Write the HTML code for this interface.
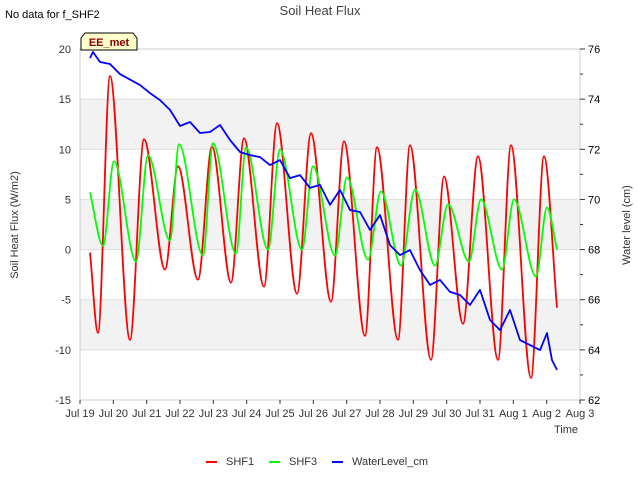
<!DOCTYPE html>
<html><head><meta charset="utf-8"><style>
body{margin:0;background:#fff;}
svg text{font-family:"Liberation Sans","DejaVu Sans",sans-serif;}
</style></head><body>
<svg id="chart" width="640" height="480" xmlns="http://www.w3.org/2000/svg">
<rect width="640" height="480" fill="#fff"/>
<text x="5" y="18" font-size="11" fill="#000">No data for f_SHF2</text>
<text x="320" y="15" font-size="13" fill="#444" text-anchor="middle">Soil Heat Flux</text>
<g id="bands"></g>
<g id="grid"></g>
<rect x="80" y="49" width="500" height="351" fill="none" stroke="#ccc"/>
<g id="axes"></g>
<g id="series"></g>
<g>
<path d="M81,50 L81,38 L85,33 L133,33 L137,38 L137,50 Z" fill="#ffffcc" stroke="#000" stroke-width="1"/>
<text x="109" y="46" font-size="11" font-weight="bold" fill="#8b0000" text-anchor="middle">EE_met</text>
</g>
<text x="18" y="225" font-size="11" fill="#333" text-anchor="middle" transform="rotate(-90 18 225)">Soil Heat Flux (W/m2)</text>
<text x="630" y="225" font-size="11" fill="#333" text-anchor="middle" transform="rotate(-90 630 225)">Water level (cm)</text>
<text x="578" y="433" font-size="11" fill="#333" text-anchor="end">Time</text>
<g>
<g><line x1="206" y1="462" x2="217" y2="462" stroke="#f00" stroke-width="2"/><text x="226" y="465" font-size="11" fill="#333">SHF1</text></g>
<g><line x1="269" y1="462" x2="280" y2="462" stroke="#0f0" stroke-width="2"/><text x="289" y="465" font-size="11" fill="#333">SHF3</text></g>
<g><line x1="332" y1="462" x2="343" y2="462" stroke="#00f" stroke-width="2"/><text x="352" y="465" font-size="11" fill="#333">WaterLevel_cm</text></g>
</g>
</svg>
<script>
const xTickLabels=["Jul 19","Jul 20","Jul 21","Jul 22","Jul 23","Jul 24","Jul 25","Jul 26","Jul 27","Jul 28","Jul 29","Jul 30","Jul 31","Aug 1","Aug 2","Aug 3"];
const leftTicks=[20,15,10,5,0,-5,-10,-15];
const rightTicks=[76,74,72,70,68,66,64,62];
const shf1Days=[0.30,0.54,0.90,1.50,1.92,2.55,2.94,3.54,3.96,4.53,4.92,5.52,5.91,6.51,6.93,7.53,7.92,8.55,8.91,9.54,9.90,10.53,10.92,11.49,11.94,12.54,12.93,13.53,13.92,14.31];
const shf1Values=[-0.3,-8.3,17.3,-9,11,-2,8.3,-3,10.3,-3.3,11.1,-3.7,12.6,-4.4,11.6,-5.2,10.8,-8.6,10.2,-9,10.4,-11,7.3,-7.4,9.3,-11,10.4,-12.8,9.3,-5.8];
const shf3Days=[0.30,0.69,1.02,1.68,2.04,2.70,2.97,3.69,3.99,4.68,4.98,5.64,6.00,6.66,6.99,7.65,8.01,8.64,9.03,9.63,10.05,10.65,11.04,11.67,12.03,12.66,13.02,13.68,14.01,14.31];
const shf3Values=[5.7,0.4,8.8,-1.2,9.4,0.9,10.5,-0.6,10.6,-0.4,10.2,0,10,0,8.3,-0.6,7.2,-1,5.8,-1.6,6,-1.6,4.5,-1.2,5,-2,5,-2.7,4.2,0];
const wlDays=[0.30,0.39,0.60,0.90,1.20,1.80,2.10,2.40,2.70,3.00,3.30,3.60,3.90,4.20,4.50,4.80,5.10,5.40,5.70,6.00,6.30,6.60,6.90,7.20,7.50,7.80,8.10,8.40,8.70,9.00,9.30,9.60,9.90,10.20,10.50,10.80,11.10,11.40,11.70,12.00,12.30,12.60,12.90,13.20,13.50,13.80,14.01,14.16,14.31];
const wlValues=[75.64,75.88,75.48,75.40,75.00,74.56,74.24,73.96,73.57,72.93,73.09,72.65,72.69,72.97,72.37,71.89,71.77,71.69,71.37,71.57,70.85,70.97,70.46,70.58,69.78,70.38,69.58,69.50,68.78,69.38,68.18,67.78,67.98,67.18,66.59,66.79,66.31,66.19,65.79,66.39,65.19,64.79,65.59,64.39,64.19,63.99,64.67,63.59,63.20];

const NS="http://www.w3.org/2000/svg";
const X0=80,X1=580,Y0=49,Y1=400;
const xs=d=>X0+d*(X1-X0)/15;
const yl=v=>Y0+(20-v)*(Y1-Y0)/35;
const yr=v=>Y0+(76-v)*(Y1-Y0)/14;
function mk(tag,attrs,parent){const e=document.createElementNS(NS,tag);for(const k in attrs)e.setAttribute(k,attrs[k]);parent.appendChild(e);return e;}
const bands=document.getElementById('bands'),grid=document.getElementById('grid'),axes=document.getElementById('axes'),series=document.getElementById('series');
[[15,10],[5,0],[-5,-10]].forEach(b=>{
 const r=mk('rect',{x:X0,y:yl(b[0]),width:X1-X0,height:yl(b[1])-yl(b[0]),fill:'#f2f2f2'},bands);
 
 
});
leftTicks.forEach(v=>{
 const l=mk('line',{x1:X0,x2:X1,y1:yl(v),y2:yl(v),stroke:'#ddd'},grid);
 
 
 const t=mk('text',{x:X0-9,y:yl(v)+4,'font-size':11,fill:'#333','text-anchor':'end'},axes);
 t.textContent=v;
 
 
});
rightTicks.forEach((v,i)=>{
 mk('line',{x1:X1,x2:X1+5,y1:yr(v),y2:yr(v),stroke:'#333'},axes);
 if(i<rightTicks.length-1) mk('line',{x1:X1,x2:X1+3,y1:yr(v-1),y2:yr(v-1),stroke:'#333'},axes);
 const t=mk('text',{x:X1+8,y:yr(v)+4,'font-size':11,fill:'#000'},axes);
 t.textContent=v;
 
 
});
xTickLabels.forEach((s,i)=>{
 mk('line',{x1:xs(i),x2:xs(i),y1:Y1,y2:Y1+4,stroke:'#333'},axes);
 const t=mk('text',{x:xs(i),y:Y1+17,'font-size':11,fill:'#333','text-anchor':'middle'},axes);
 t.textContent=s;
 
 
});
function monotonePath(px,py){
 const n=px.length,d=[],m=[];
 for(let i=0;i<n-1;i++)d.push((py[i+1]-py[i])/(px[i+1]-px[i]));
 for(let i=0;i<n;i++){
  if(i===0)m.push(d[0]);else if(i===n-1)m.push(d[n-2]);
  else m.push(d[i-1]*d[i]<=0?0:(d[i-1]+d[i])/2);
 }
 let s='M'+px[0].toFixed(1)+','+py[0].toFixed(1);
 for(let i=0;i<n-1;i++){
  const h=(px[i+1]-px[i])/3;
  s+=' C'+(px[i]+h).toFixed(1)+','+(py[i]+m[i]*h).toFixed(1)+' '+(px[i+1]-h).toFixed(1)+','+(py[i+1]-m[i+1]*h).toFixed(1)+' '+px[i+1].toFixed(1)+','+py[i+1].toFixed(1);
 }
 return s;
}
function line(days,vals,yf,color,name,smooth){
 const px=days.map(xs),py=vals.map(yf);
 const dstr=smooth?monotonePath(px,py):'M'+px.map((x,i)=>x.toFixed(1)+','+py[i].toFixed(1)).join(' L');
 const p=mk('path',{d:dstr,fill:'none',stroke:color,'stroke-width':1.8,'stroke-linejoin':'round'},series);
 
 
}
line(shf1Days,shf1Values,yl,'#f00','shf1-line',true);
line(shf3Days,shf3Values,yl,'#0f0','shf3-line',true);
line(wlDays,wlValues,yr,'#00f','waterlevel-line',false);
</script>
</body></html>
